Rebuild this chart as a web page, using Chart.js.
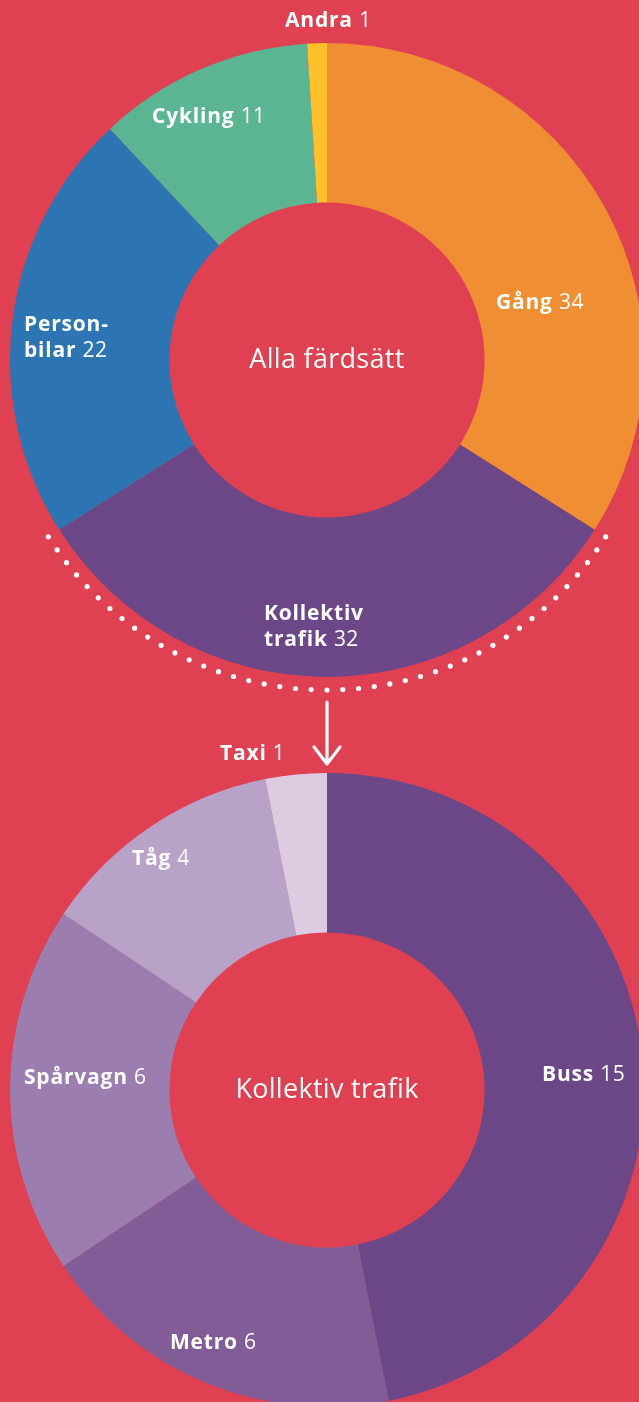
<!DOCTYPE html>
<html lang="sv">
<head>
<meta charset="utf-8">
<title>Färdsätt</title>
<script src="https://cdn.jsdelivr.net/npm/chart.js@4/dist/chart.umd.min.js"></script>
<style>
  html, body { margin: 0; padding: 0; }
  body {
    width: 639px; height: 1402px; overflow: hidden;
    background: #E04152; position: relative;
    font-family: "Open Sans", sans-serif;
  }
  .wrap { position: absolute; left: 0; width: 660px; }
  #topWrap { top: 0; height: 780px; z-index: 2; }
  #bottomWrap { top: 730px; height: 720px; z-index: 1; }
</style>
</head>
<body>
<div class="wrap" id="topWrap"><canvas id="topChart" width="660" height="780"></canvas></div>
<div class="wrap" id="bottomWrap"><canvas id="bottomChart" width="660" height="720"></canvas></div>
<script>
// Données - tous les modes de déplacement
const topCategories = ['Gång', 'Kollektiv trafik', 'Personbilar', 'Cykling', 'Andra'];
const topValues = [34, 32, 22, 11, 1];
const topColors = ['#F08E34', '#6B4788', '#2C75B2', '#5CB592', '#FDC22B'];
const topNames = [['Gång'], ['Kollektiv', 'trafik'], ['Person-', 'bilar'], ['Cykling'], ['Andra']];
// position du label (x, y de la première ligne)
const topLabelPos = [[496, 303], [264, 614], [24, 325], [152, 117], [285, 21]];

// Données - kollektiv trafik
const bottomCategories = ['Buss', 'Metro', 'Spårvagn', 'Tåg', 'Taxi'];
const bottomValues = [15, 6, 6, 4, 1];
const bottomColors = ['#6B4788', '#825C97', '#9B7EAF', '#B9A2C8', '#DCCBE1'];
const bottomNames = [['Buss'], ['Metro'], ['Spårvagn'], ['Tåg'], ['Taxi']];
const bottomLabelPos = [[542, 345], [170, 613], [24, 348], [132, 129], [220, 24]];

const FONT = '"Open Sans", sans-serif';
const LABEL_SIZE = 21;
const LINE_H = 26;

// Plugin pour le texte central et les labels
const labelPlugin = {
    id: 'labels',
    afterDraw(chart, args, opts) {
        const ctx = chart.ctx;
        const arc = chart.getDatasetMeta(0).data[0];
        ctx.save();
        ctx.fillStyle = '#fff';
        ctx.textBaseline = 'middle';

        // texte au centre
        ctx.textAlign = 'center';
        ctx.font = '400 27px ' + FONT;
        ctx.letterSpacing = '0.3px';
        ctx.fillText(opts.center, arc.x, arc.y);

        // labels
        ctx.textAlign = 'left';
        const values = chart.data.datasets[0].data;
        opts.names.forEach(function(lines, i) {
            const pos = opts.positions[i];
            lines.forEach(function(line, j) {
                const y = pos[1] + j * LINE_H;
                ctx.font = '700 ' + LABEL_SIZE + 'px ' + FONT;
                ctx.letterSpacing = '0.8px';
                ctx.fillText(line, pos[0], y);
                if (j === lines.length - 1) {
                    const w = ctx.measureText(line + ' ').width;
                    ctx.font = '400 ' + LABEL_SIZE + 'px ' + FONT;
                    ctx.letterSpacing = '0.4px';
                    ctx.fillText(String(values[i]), pos[0] + w, y);
                }
            });
        });
        ctx.restore();
    }
};

// Plugin pour l'arc pointillé et la flèche
const dotsPlugin = {
    id: 'dots',
    afterDraw(chart, args, opts) {
        if (!opts.show) return;
        const ctx = chart.ctx;
        const arc = chart.getDatasetMeta(0).data[opts.index];
        const r = arc.outerRadius + 13;
        const a0 = arc.startAngle, a1 = arc.endAngle;
        const n = Math.round((a1 - a0) * r / 15.7);
        ctx.save();
        ctx.fillStyle = '#fff';
        for (let k = 0; k <= n; k++) {
            const a = a0 + (a1 - a0) * k / n;
            ctx.beginPath();
            ctx.arc(arc.x + r * Math.cos(a), arc.y + r * Math.sin(a), 2.6, 0, Math.PI * 2);
            ctx.fill();
        }
        // flèche
        const top = arc.y + r + 12;
        const bot = top + 62;
        ctx.strokeStyle = '#fff';
        ctx.lineWidth = 3.2;
        ctx.lineCap = 'round';
        ctx.lineJoin = 'round';
        ctx.beginPath();
        ctx.moveTo(arc.x, top);
        ctx.lineTo(arc.x, bot);
        ctx.moveTo(arc.x - 13, bot - 17);
        ctx.lineTo(arc.x, bot);
        ctx.lineTo(arc.x + 13, bot - 17);
        ctx.stroke();
        ctx.restore();
    }
};

function makeDoughnut(id, categories, values, colors, names, positions, center, dots, padBottom) {
    return new Chart(document.getElementById(id), {
        type: 'doughnut',
        data: {
            labels: categories,
            datasets: [{
                data: values,
                backgroundColor: colors,
                borderWidth: 0
            }]
        },
        options: {
            responsive: false,
            animation: false,
            cutout: '49.7%',
            layout: { padding: { left: 10, right: 16, top: 43, bottom: padBottom } },
            plugins: {
                legend: { display: false },
                tooltip: { enabled: false },
                labels: { names: names, positions: positions, center: center },
                dots: { show: dots, index: 1 }
            }
        },
        plugins: [labelPlugin, dotsPlugin]
    });
}

makeDoughnut('topChart', topCategories, topValues, topColors, topNames, topLabelPos, 'Alla färdsätt', true, 103);
makeDoughnut('bottomChart', bottomCategories, bottomValues, bottomColors, bottomNames, bottomLabelPos, 'Kollektiv trafik', false, 43);
</script>
</body>
</html>
